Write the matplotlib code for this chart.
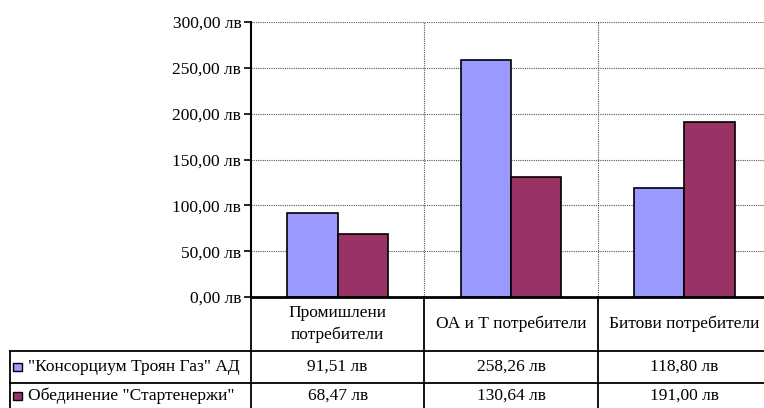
import matplotlib
matplotlib.use('Agg')
import matplotlib.pyplot as plt
from matplotlib.patches import Rectangle

plt.rcParams['font.family'] = ['Liberation Serif', 'DejaVu Serif']

# данни
categories = ['Промишлени\nпотребители', 'ОА и Т потребители', 'Битови потребители']
series_names = ['"Консорциум Троян Газ" АД', 'Обединение "Стартенержи"']
troyan = [91.51, 258.26, 118.80]
starten = [68.47, 130.64, 191.00]
colors = ['#9999FF', '#993366']
yticks = [0, 50, 100, 150, 200, 250, 300]

FS = 12.5


def fmt(v):
    return f'{v:.2f}'.replace('.', ',') + ' лв'


W, H = 764, 408
fig = plt.figure(figsize=(W / 100, H / 100), dpi=100)
# зоната на графиката излиза малко вдясно от картинката (както в оригинала)
ax = fig.add_axes([251 / W, 111 / H, 520 / W, 275 / H])

n = len(categories)
bw = 0.29
for i in range(n):
    ax.bar(i + 0.5 - bw / 2, troyan[i], width=bw, color=colors[0], edgecolor='black', linewidth=1.2, zorder=3)
    ax.bar(i + 0.5 + bw / 2, starten[i], width=bw, color=colors[1], edgecolor='black', linewidth=1.2, zorder=3)

ax.set_xlim(0, n)
ax.set_ylim(0, 300)
ax.set_yticks(yticks)
ax.set_yticklabels([fmt(v) for v in yticks], fontsize=FS)
ax.set_xticks([])
ax.tick_params(axis='y', direction='out', length=5, width=1.2, pad=2)

for y in yticks[1:]:
    ax.axhline(y, color='#555555', linestyle=(0, (1, 1)), linewidth=0.8, zorder=1)
for x in range(1, n):
    ax.axvline(x, color='#555555', linestyle=(0, (1, 1)), linewidth=0.8, zorder=1)

for s in ['top', 'right']:
    ax.spines[s].set_visible(False)
ax.spines['left'].set_linewidth(1.5)
ax.spines['bottom'].set_linewidth(2)
ax.spines['bottom'].set_zorder(4)

# таблица с данни под графиката
tr = ax.get_xaxis_transform()
px = lambda p: (p - 251) / 173.33  # пиксел -> x в данни
py = lambda p: (H - p - 111) / 275.0  # пиксел -> y в координати на осите

y_head, y_r1, y_bot = py(351), py(383), py(420)
x_left = px(10)
lk = dict(color='black', linewidth=1.3, transform=tr, clip_on=False)
ax.plot([x_left, n], [y_head, y_head], **lk)
ax.plot([x_left, n], [y_r1, y_r1], **lk)
ax.plot([x_left, x_left], [y_head, y_bot], **lk)
for x in range(0, n + 1):
    ax.plot([x, x], [0, y_bot], **lk)

for i, cat in enumerate(categories):
    ax.text(i + 0.5, py(324), cat, transform=tr, ha='center', va='center',
            fontsize=FS, linespacing=1.4, clip_on=False)

rows = [troyan, starten]
row_y = [py(367), py(396)]
for r, (vals, name, col) in enumerate(zip(rows, series_names, colors)):
    ax.add_patch(Rectangle((px(13), row_y[r] - 0.016), px(22) - px(13), 0.032,
                           transform=tr, facecolor=col, edgecolor='black',
                           linewidth=1, clip_on=False))
    ax.text(px(28), row_y[r], name, transform=tr, ha='left', va='center',
            fontsize=FS, clip_on=False)
    for i, v in enumerate(vals):
        ax.text(i + 0.5, row_y[r], fmt(v), transform=tr, ha='center', va='center',
                fontsize=FS, clip_on=False)

fig.savefig('out.png', dpi=100)
